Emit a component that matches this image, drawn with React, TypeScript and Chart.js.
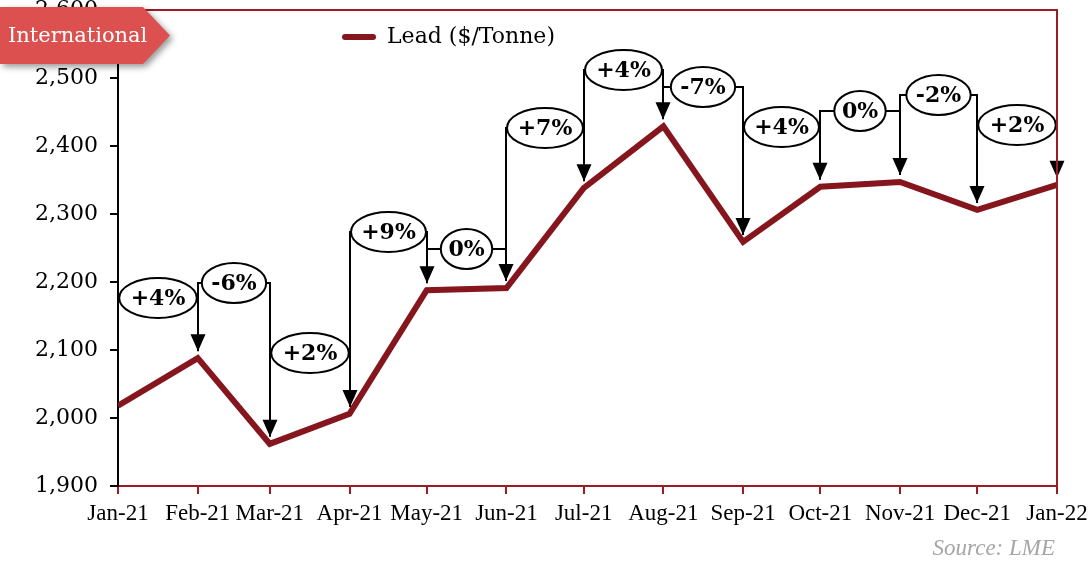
import React, { useEffect, useRef } from "react";
import { Chart, registerables } from "chart.js";

Chart.register(...registerables);

// ---- data ----
const monthDates = [
  "2021-01-01", "2021-02-01", "2021-03-01", "2021-04-01", "2021-05-01", "2021-06-01",
  "2021-07-01", "2021-08-01", "2021-09-01", "2021-10-01", "2021-11-01", "2021-12-01", "2022-01-01",
];
const monthLabels = [
  "Jan-21", "Feb-21", "Mar-21", "Apr-21", "May-21", "Jun-21",
  "Jul-21", "Aug-21", "Sep-21", "Oct-21", "Nov-21", "Dec-21", "Jan-22",
];
const leadPrices = [2018, 2088, 1962, 2006, 2188, 2191, 2338, 2429, 2259, 2340, 2347, 2306, 2343];
// month-on-month change labels and the price level at which each callout sits
const changeLabels = ["+4%", "-6%", "+2%", "+9%", "0%", "+7%", "+4%", "-7%", "+4%", "0%", "-2%", "+2%"];
const calloutLevels = [2176, 2198, 2096, 2273, 2248, 2426, 2512, 2487, 2428, 2451, 2475, 2431];
const yTicks = [1900, 2000, 2100, 2200, 2300, 2400, 2500, 2600];
const seriesLabel = "Lead ($/Tonne)";
const badgeText = "International";
const sourceText = "Source: LME";

const DAY = 86400000;
const dayOffsets = monthDates.map((d) => (Date.parse(d) - Date.parse(monthDates[0])) / DAY);

const LINE_COLOR = "#86161e";
const BORDER_RED = "#9b1c22";

const overlayPlugin = {
  id: "overlay",
  beforeDatasetsDraw(chart: any) {
    const { ctx, scales } = chart;
    const xs = scales.x;
    const ys = scales.y;
    ctx.save();
    for (let i = 0; i < changeLabels.length; i++) {
      const x0 = Math.round(xs.getPixelForValue(dayOffsets[i]));
      const x1 = Math.round(xs.getPixelForValue(dayOffsets[i + 1]));
      const yLevel = Math.round(ys.getPixelForValue(calloutLevels[i]));
      const y0 = ys.getPixelForValue(leadPrices[i]) - 7;
      const y1 = ys.getPixelForValue(leadPrices[i + 1]) - 7;
      ctx.strokeStyle = "#000";
      ctx.lineWidth = 2;
      ctx.beginPath();
      ctx.moveTo(x0, y0);
      ctx.lineTo(x0, yLevel);
      ctx.lineTo(x1, yLevel);
      ctx.lineTo(x1, y1 - 14);
      ctx.stroke();
      // arrow head
      ctx.fillStyle = "#000";
      ctx.beginPath();
      ctx.moveTo(x1, y1);
      ctx.lineTo(x1 - 7.5, y1 - 17);
      ctx.lineTo(x1 + 7.5, y1 - 17);
      ctx.closePath();
      ctx.fill();
      // ellipse label
      ctx.font = "bold 22px 'DejaVu Serif'";
      const tw = ctx.measureText(changeLabels[i]).width;
      const rw = Math.min((tw * 1.42) / 2, (x1 - x0) / 2 - 1);
      const cx = (x0 + x1) / 2;
      ctx.beginPath();
      ctx.ellipse(cx, yLevel, rw, 20, 0, 0, Math.PI * 2);
      ctx.fillStyle = "#fff";
      ctx.fill();
      ctx.lineWidth = 2;
      ctx.strokeStyle = "#000";
      ctx.stroke();
      ctx.fillStyle = "#000";
      ctx.textAlign = "center";
      ctx.textBaseline = "middle";
      ctx.fillText(changeLabels[i], cx, yLevel + 1);
    }
    ctx.restore();
  },
  afterDraw(chart: any) {
    const { ctx, chartArea } = chart;
    ctx.save();
    // top and right frame
    ctx.strokeStyle = BORDER_RED;
    ctx.lineWidth = 2;
    ctx.beginPath();
    ctx.moveTo(chartArea.left, chartArea.top);
    ctx.lineTo(chartArea.right, chartArea.top);
    ctx.lineTo(chartArea.right, chartArea.bottom);
    ctx.stroke();

    // legend
    ctx.strokeStyle = LINE_COLOR;
    ctx.lineWidth = 6;
    ctx.lineCap = "round";
    ctx.beginPath();
    ctx.moveTo(345, 37);
    ctx.lineTo(373, 37);
    ctx.stroke();
    ctx.fillStyle = "#000";
    ctx.font = "22px 'DejaVu Serif'";
    ctx.textAlign = "left";
    ctx.textBaseline = "middle";
    ctx.fillText(seriesLabel, 387, 37);

    // source
    ctx.fillStyle = "#a6a6a6";
    ctx.font = "italic 23px 'Liberation Serif'";
    ctx.textAlign = "right";
    ctx.textBaseline = "middle";
    ctx.fillText(sourceText, 1055, 549);

    // badge
    ctx.save();
    ctx.shadowColor = "rgba(0,0,0,0.4)";
    ctx.shadowBlur = 6;
    ctx.shadowOffsetX = 3;
    ctx.shadowOffsetY = 3;
    ctx.fillStyle = "#dc5050";
    ctx.beginPath();
    ctx.moveTo(0, 7);
    ctx.lineTo(143, 7);
    ctx.lineTo(170, 35.5);
    ctx.lineTo(143, 64);
    ctx.lineTo(0, 64);
    ctx.closePath();
    ctx.fill();
    ctx.restore();
    ctx.fillStyle = "#fff";
    ctx.font = "21px 'DejaVu Serif'";
    ctx.textAlign = "left";
    ctx.textBaseline = "middle";
    ctx.fillText(badgeText, 8, 37);
    ctx.restore();
  },
};

export default function App() {
  const ref = useRef<HTMLCanvasElement | null>(null);
  useEffect(() => {
    if (!ref.current) return;
    const chart = new Chart(ref.current, {
      type: "line",
      data: {
        datasets: [
          {
            label: seriesLabel,
            data: leadPrices.map((v, i) => ({ x: dayOffsets[i], y: v })),
            borderColor: LINE_COLOR,
            borderWidth: 6,
            pointRadius: 0,
            tension: 0,
            borderJoinStyle: "miter",
          },
        ],
      },
      options: {
        responsive: false,
        animation: false,
        layout: { padding: { left: 0, top: 10, right: 32, bottom: 0 } },
        plugins: { legend: { display: false }, tooltip: { enabled: false } },
        scales: {
          x: {
            type: "linear",
            min: dayOffsets[0],
            max: dayOffsets[dayOffsets.length - 1],
            afterBuildTicks: (s: any) => {
              s.ticks = dayOffsets.map((v) => ({ value: v }));
            },
            afterFit: (s: any) => {
              s.height = 77;
              s.paddingLeft = 0;
              s.paddingRight = 0;
            },
            ticks: {
              autoSkip: false,
              maxRotation: 0,
              padding: 6,
              color: "#000",
              font: { family: "'Liberation Serif'", size: 23 },
              callback: (v: any) => {
                const idx = dayOffsets.indexOf(Number(v));
                return idx >= 0 ? monthLabels[idx] : "";
              },
            },
            grid: { display: true, drawOnChartArea: false, drawTicks: true, tickLength: 8, color: BORDER_RED, lineWidth: 2 },
            border: { display: true, color: BORDER_RED, width: 2 },
          },
          y: {
            min: yTicks[0],
            max: yTicks[yTicks.length - 1],
            afterBuildTicks: (s: any) => {
              s.ticks = yTicks.map((v) => ({ value: v }));
            },
            afterFit: (s: any) => {
              s.width = 118;
              s.paddingTop = 0;
              s.paddingBottom = 0;
            },
            ticks: {
              padding: 12,
              color: "#000",
              font: { family: "'DejaVu Serif'", size: 22 },
              callback: (v: any) => Number(v).toLocaleString("en-US"),
            },
            grid: { display: true, drawOnChartArea: false, drawTicks: true, tickLength: 8, color: "#000", lineWidth: 2 },
            border: { display: true, color: "#000", width: 2 },
          },
        },
      },
      plugins: [overlayPlugin],
    });
    return () => chart.destroy();
  }, []);
  return (
    <div style={{ position: "fixed", left: 0, top: 0, width: 1089, height: 563, background: "#fff" }}>
      <canvas ref={ref} width={1089} height={563} style={{ width: 1089, height: 563, display: "block" }} />
    </div>
  );
}
